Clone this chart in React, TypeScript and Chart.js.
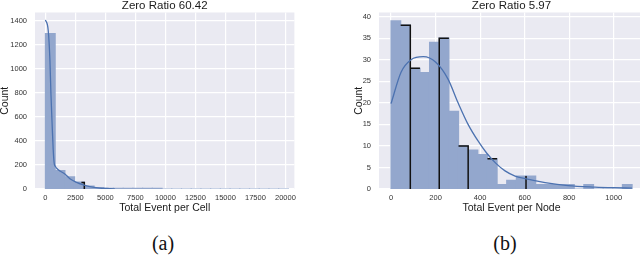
import React, { useEffect, useRef } from "react";
import { Chart, registerables } from "chart.js";

Chart.register(...registerables);

// ---------- (a) Total Event per Cell ----------
const cellTitle = "Zero Ratio 60.42";
const cellXLabel = "Total Event per Cell";
const cellBinWidth = 810;
const cellCounts = [1290, 152, 100, 58, 25, 12, 6, 4, 3, 2, 1, 1, 0, 0, 0, 0, 0, 0, 0, 0, 0, 0, 0, 0, 0];
const cellKdeX = [0, 233, 374, 457, 566, 649, 732, 848, 956, 1206, 1622, 2038, 2595, 3144, 3700, 4533, 5365, 5780];
const cellKdeY = [1405, 1317, 1070, 793, 516, 323, 213, 185, 170, 150, 125, 85, 55, 35, 20, 8, 3, 1];
const cellStepX = [3000, 3240, 3240];
const cellStepY = [55, 55, 0];
const cellXTicks = [0, 2500, 5000, 7500, 10000, 12500, 15000, 17500, 20000];
const cellYTicks = [0, 200, 400, 600, 800, 1000, 1200, 1400];
const cellXRange = [-870, 20750];
const cellYRange = [0, 1466];

// ---------- (b) Total Event per Node ----------
const nodeTitle = "Zero Ratio 5.97";
const nodeXLabel = "Total Event per Node";
const nodeBinWidth = 43.3;
const nodeCounts = [39, 38, 28, 27, 34, 35, 18, 10, 9, 8, 7, 1, 2, 3, 3, 1, 1, 1, 1, 0, 1, 0, 0, 0, 1];
const nodeKdeX = [0, 45, 90, 145, 201, 256, 301, 346, 390, 430, 470, 512, 557, 602, 692, 795, 916, 1000, 1082];
const nodeKdeY = [19.8, 27.1, 30.0, 30.7, 29.4, 25.5, 20.0, 15.0, 11.2, 8.3, 6.0, 4.2, 3.0, 2.4, 1.5, 0.8, 0.45, 0.3, 0.2];
const nodeStepX = [43.3, 86.6, 86.6, 86.6, 86.6, 129.9, 129.9, 216.5, 216.5, 259.8, 259.8, 303.1, 346.4, 346.4, 346.4, 433, 476.3, 476.3, 606.2, 606.2];
const nodeStepY = [38, 38, 0, null, 28, 28, null, 0, 35, 35, null, 10, 10, 0, null, 7, 7, null, 3, 0];
const nodeXTicks = [0, 200, 400, 600, 800, 1000];
const nodeYTicks = [0, 5, 10, 15, 20, 25, 30, 35, 40];
const nodeXRange = [-54, 1136];
const nodeYRange = [0, 40.95];

const FONT = "'Liberation Sans', Arial, sans-serif";
const BAR_COLOR = "#93a7cd";
const LINE_COLOR = "#4c72b0";
const BG = "#eaeaf2";

const panelPlugin = {
  id: "panelDeco",
  beforeDraw(chart: any) {
    const { ctx, chartArea } = chart;
    ctx.save();
    ctx.fillStyle = BG;
    ctx.fillRect(chartArea.left, chartArea.top, chartArea.right - chartArea.left, chartArea.bottom - chartArea.top);
    ctx.restore();
  },
  afterDraw(chart: any, _args: any, opts: any) {
    const { ctx, chartArea } = chart;
    ctx.save();
    ctx.font = `${opts.size}px ${FONT}`;
    ctx.fillStyle = "#1a1a1a";
    ctx.textAlign = "center";
    ctx.textBaseline = "alphabetic";
    ctx.fillText(opts.text, (chartArea.left + chartArea.right) / 2, opts.baseline);
    ctx.restore();
  },
};

type Spec = {
  title: string;
  xLabel: string;
  binWidth: number;
  counts: number[];
  kdeX: number[];
  kdeY: number[];
  stepX: number[];
  stepY: (number | null)[];
  xTicks: number[];
  yTicks: number[];
  xRange: number[];
  yRange: number[];
  yWidth: number;
  yTitlePad: number;
  padRight: number;
};

function Hist({ spec, width, height, left }: { spec: Spec; width: number; height: number; left: number }) {
  const ref = useRef<HTMLCanvasElement | null>(null);
  useEffect(() => {
    if (!ref.current) return;
    const tickFont = { family: FONT, size: 7.5 };
    const labelFont = { family: FONT, size: 10.5, lineHeight: 1.2 };
    const chart = new Chart(ref.current, {
      type: "bar",
      data: {
        datasets: [
          {
            type: "line",
            data: spec.kdeX.map((x, i) => ({ x, y: spec.kdeY[i] })),
            borderColor: LINE_COLOR,
            borderWidth: 1.3,
            pointRadius: 0,
            cubicInterpolationMode: "monotone",
            fill: false,
            order: 1,
          } as any,
          {
            type: "line",
            data: spec.stepX.map((x, i) => ({ x, y: spec.stepY[i] })),
            borderColor: "#111111",
            borderWidth: 1.5,
            pointRadius: 0,
            spanGaps: false,
            tension: 0,
            fill: false,
            order: 2,
          } as any,
          {
            type: "bar",
            data: spec.counts.map((c, i) => ({ x: (i + 0.5) * spec.binWidth, y: c })),
            backgroundColor: BAR_COLOR,
            borderWidth: 0,
            inflateAmount: 0.6,
            barPercentage: 1,
            categoryPercentage: 1,
            order: 3,
          } as any,
        ],
      },
      options: {
        responsive: false,
        animation: false,
        devicePixelRatio: 1,
        layout: { padding: { left: 0, right: spec.padRight, top: 12, bottom: 0 } },
        plugins: {
          legend: { display: false },
          tooltip: { enabled: false },
          panelDeco: { text: spec.title, size: 11.5, baseline: 8.7 },
        } as any,
        scales: {
          x: {
            type: "linear",
            min: spec.xRange[0],
            max: spec.xRange[1],
            offset: false,
            grid: { color: "#ffffff", lineWidth: 1.2, drawTicks: false, offset: false },
            border: { display: false },
            ticks: {
              font: tickFont,
              color: "#333333",
              padding: 4,
              maxRotation: 0,
              autoSkip: false,
              callback: (v: any) => String(v),
            },
            afterBuildTicks: (s: any) => {
              s.ticks = spec.xTicks.map((v) => ({ value: v }));
            },
            afterFit: (s: any) => {
              s.height = 25;
            },
            title: { display: true, text: spec.xLabel, font: labelFont, color: "#1a1a1a", padding: 0 },
          },
          y: {
            type: "linear",
            min: spec.yRange[0],
            max: spec.yRange[1],
            grid: { color: "#ffffff", lineWidth: 1.2, drawTicks: false },
            border: { display: false },
            ticks: {
              font: tickFont,
              color: "#333333",
              padding: 8,
              callback: (v: any) => String(v),
            },
            afterBuildTicks: (s: any) => {
              s.ticks = spec.yTicks.map((v) => ({ value: v }));
            },
            afterFit: (s: any) => {
              s.width = spec.yWidth;
            },
            title: {
              display: true,
              text: "Count",
              font: { family: FONT, size: 10.5, lineHeight: 1 },
              color: "#1a1a1a",
              padding: { top: spec.yTitlePad, bottom: 0 },
            },
          },
        },
      } as any,
      plugins: [panelPlugin],
    });
    return () => chart.destroy();
  }, [spec]);
  return (
    <canvas
      ref={ref}
      width={width}
      height={height}
      style={{ position: "absolute", left, top: 0, width, height }}
    />
  );
}

const cellSpec: Spec = {
  title: cellTitle,
  xLabel: cellXLabel,
  binWidth: cellBinWidth,
  counts: cellCounts,
  kdeX: cellKdeX,
  kdeY: cellKdeY,
  stepX: cellStepX,
  stepY: cellStepY,
  xTicks: cellXTicks,
  yTicks: cellYTicks,
  xRange: cellXRange,
  yRange: cellYRange,
  yWidth: 35,
  yTitlePad: 0,
  padRight: 5,
};

const nodeSpec: Spec = {
  title: nodeTitle,
  xLabel: nodeXLabel,
  binWidth: nodeBinWidth,
  counts: nodeCounts,
  kdeX: nodeKdeX,
  kdeY: nodeKdeY,
  stepX: nodeStepX,
  stepY: nodeStepY,
  xTicks: nodeXTicks,
  yTicks: nodeYTicks,
  xRange: nodeXRange,
  yRange: nodeYRange,
  yWidth: 39,
  yTitlePad: 14,
  padRight: 0,
};

const capStyle: React.CSSProperties = {
  position: "absolute",
  top: 230,
  width: 100,
  textAlign: "center",
  fontFamily: "'Liberation Serif', 'Times New Roman', serif",
  fontSize: 20,
  lineHeight: "26px",
  color: "#111",
};

export default function App() {
  return (
    <div
      style={{
        position: "fixed",
        left: 0,
        top: 0,
        width: 640,
        height: 257,
        overflow: "hidden",
        background: "#ffffff",
      }}
    >
      <Hist spec={cellSpec} width={300} height={214} left={0} />
      <Hist spec={nodeSpec} width={304} height={214} left={340} />
      <div style={{ ...capStyle, left: 113 }}>(a)</div>
      <div style={{ ...capStyle, left: 455 }}>(b)</div>
    </div>
  );
}
